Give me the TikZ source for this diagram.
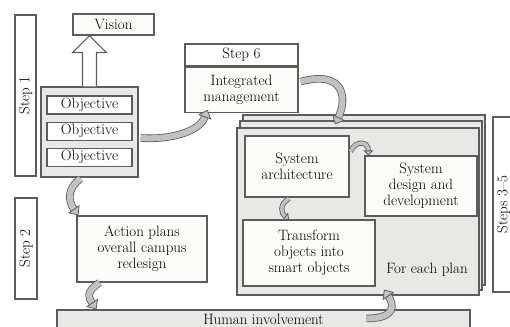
\documentclass[tikz,border=0pt]{standalone}
\usepackage{fontspec}
\usepackage{tikz}
\usetikzlibrary{arrows.meta,positioning,calc}
\definecolor{boxline}{HTML}{5C5C5C}
\definecolor{paper}{HTML}{FCFBF8}
\definecolor{panel}{HTML}{E9E8E4}
\definecolor{ribbonfill}{HTML}{C2C2C2}

\begin{document}
\begin{tikzpicture}[x=1pt, y=-1pt, font=\fontsize{15}{16}\selectfont,
	box/.style={rectangle, draw=boxline, line width=1.1pt, fill=paper, align=center, inner sep=1pt},
	bar/.style={box, fill=white, rotate=90},
	page/.style={draw=boxline, line width=1.1pt, fill=panel},
	hollowarr/.style={draw=boxline, line width=1.1pt, fill=white, line join=miter},
	ribbon/.style={draw=boxline, line width=0.8pt, double=ribbonfill, double distance=6pt,
		-{Triangle[length=8pt, width=14pt, fill=ribbonfill]}},
	smallribbon/.style={ribbon, double distance=3.5pt, -{Triangle[length=5pt, width=10pt, fill=ribbonfill]}}]
	\useasboundingbox (0,0) rectangle (510,326);

	% step 1: vision and objectives
	\node[bar, minimum width=161, minimum height=21] (step1) at (25.5,95.5) {Step 1};
	\node[box, minimum width=81, minimum height=21] (vision) at (113.5,24.5) {Vision};
	\node[box, fill=panel, line width=1.4pt, minimum width=97, minimum height=90] (objall) at (89.5,132) {};
	\node[box, fill=white, minimum width=85, minimum height=18] (obj1) at (89.5,105) {Objective};
	\node[box, fill=white, minimum width=85, minimum height=18, below=7pt of obj1] (obj2) {Objective};
	\node[box, fill=white, minimum width=85, minimum height=18, below=7pt of obj2] (obj3) {Objective};

	\path (objall.north) coordinate (up0) (objall.north |- vision.south) coordinate (up1);
	\draw[hollowarr] ($(up0)+(-7,0)$) -- ($(up1)+(-7,17)$) -- ($(up1)+(-17,17)$) -- (up1)
		-- ($(up1)+(17,17)$) -- ($(up1)+(7,17)$) -- ($(up0)+(7,0)$);

	% step 6
	\node[box, fill=white, minimum width=113, minimum height=22] (step6) at (241.5,55) {Step 6};
	\node[box, minimum width=113, minimum height=45, below=0pt of step6] (mgmt) {Integrated\\management};

	% steps 3-5: stacked plans
	\draw[page] (243,115) rectangle (485,285);
	\draw[page] (240,121) rectangle (482,290);
	\node[box, fill=panel, minimum width=242, minimum height=167] (plan) at (358,211.5) {};
	\node[box, minimum width=104, minimum height=61] (arch) at (297,166.5) {System\\architecture};
	\node[box, minimum width=112, minimum height=60] (design) at (421,186) {System\\design and\\development};
	\node[box, minimum width=132, minimum height=66] (transform) at (309,253) {Transform\\objects into\\smart objects};
	\node (each) at (427,270) {For each plan};
	\node[bar, minimum width=175, minimum height=21] (steps35) at (503.5,204.5) {Steps 3--5};

	% step 2
	\node[bar, minimum width=101, minimum height=22] (step2) at (26,248.5) {Step 2};
	\node[box, minimum width=130, minimum height=66] (action) at (142,249) {Action plans\\overall campus\\redesign};
	\node[box, fill=panel, minimum width=413, minimum height=18, text depth=0pt] (human) at (263.5,319) {Human involvement};

	% ribbons
	\draw[ribbon] ($(objall.east)+(2,6)$) .. controls +(30,2) and +(-8,22) .. ($(mgmt.south west)+(23,-3)$);
	\draw[ribbon] ($(mgmt.east)+(2,-8)$) .. controls +(45,-12) and +(12,-25) .. ($(plan.north)+(-23,-3)$);
	\draw[ribbon] ($(objall.south)+(-9,1)$) .. controls +(-14,10) and +(-10,-14) .. ($(action.north west)+(2,0)$);
	\draw[ribbon] ($(action.south west)+(23,0)$) .. controls +(-14,10) and +(-8,-12) .. ($(human.north west)+(40,0)$);
	\draw[ribbon] ($(human.north)+(103,9)$) .. controls +(30,0) and +(10,15) .. ($(plan.south)+(26,-6)$);
	\draw[smallribbon] ($(arch.east)+(1,-15)$) .. controls +(5,-12) and +(0,-14) .. ($(design.north west)+(4,0)$);
	\draw[smallribbon] ($(arch.south)+(-8,1)$) .. controls +(-10,6) and +(-8,-6) .. ($(transform.north)+(-20,0)$);
\end{tikzpicture}
\end{document}
